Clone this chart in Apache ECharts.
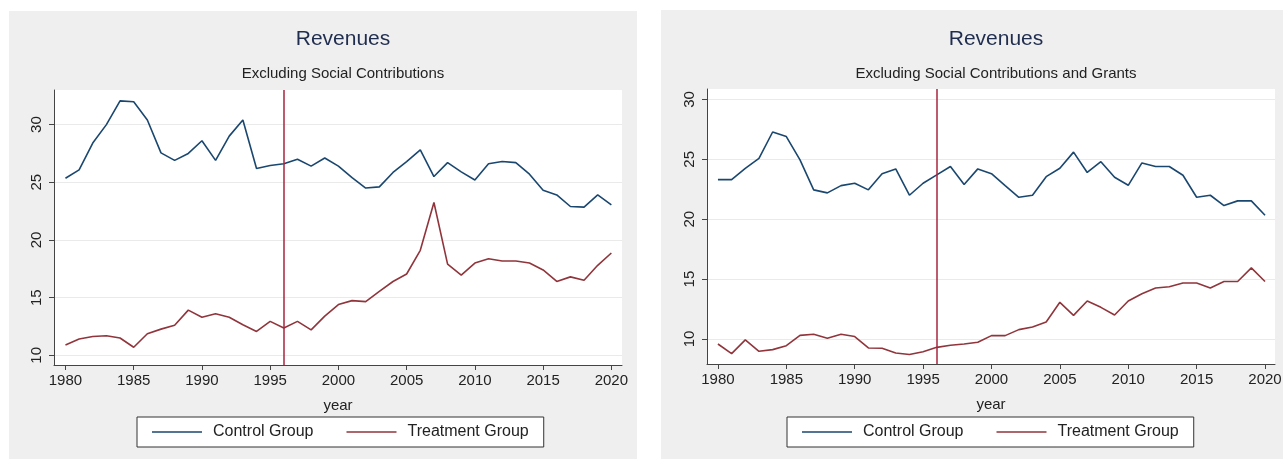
<!DOCTYPE html>
<html>
<head>
<meta charset="utf-8">
<script src="https://cdn.jsdelivr.net/npm/echarts@6/dist/echarts.min.js"></script>
<style>
  html, body { margin: 0; padding: 0; background: #ffffff; }
  #chart { width: 1285px; height: 459px; }
</style>
</head>
<body>
<div id="chart"></div>
<script>
// Years on the horizontal axis
const years = [1980, 1981, 1982, 1983, 1984, 1985, 1986, 1987, 1988, 1989,
               1990, 1991, 1992, 1993, 1994, 1995, 1996, 1997, 1998, 1999,
               2000, 2001, 2002, 2003, 2004, 2005, 2006, 2007, 2008, 2009,
               2010, 2011, 2012, 2013, 2014, 2015, 2016, 2017, 2018, 2019,
               2020];

// Revenues excluding social contributions
const controlExclSC = [25.35, 26.08, 28.4, 30.0, 32.06, 31.98, 30.4, 27.55, 26.9, 27.5,
                       28.6, 26.9, 29.0, 30.4, 26.2, 26.45, 26.6, 27.0, 26.4, 27.1,
                       26.4, 25.4, 24.5, 24.6, 25.85, 26.8, 27.8, 25.5, 26.7, 25.9,
                       25.2, 26.6, 26.8, 26.7, 25.7, 24.3, 23.9, 22.9, 22.85, 23.9,
                       23.05];
const treatExclSC = [10.9, 11.42, 11.63, 11.7, 11.5, 10.7, 11.87, 12.27, 12.6, 13.92,
                     13.3, 13.6, 13.3, 12.65, 12.07, 12.94, 12.36, 12.94, 12.2, 13.4,
                     14.4, 14.74, 14.65, 15.55, 16.4, 17.05, 19.1, 23.25, 17.9, 16.95,
                     18.0, 18.37, 18.17, 18.17, 18.0, 17.4, 16.4, 16.8, 16.5, 17.8,
                     18.87];

// Revenues excluding social contributions and grants
const controlExclSCG = [23.3, 23.3, 24.25, 25.08, 27.28, 26.9, 24.95, 22.45, 22.2, 22.8,
                        23.0, 22.45, 23.8, 24.2, 22.0, 23.0, 23.7, 24.4, 22.9, 24.2,
                        23.8, 22.8, 21.83, 22.0, 23.55, 24.25, 25.6, 23.9, 24.8, 23.5,
                        22.83, 24.7, 24.4, 24.4, 23.67, 21.83, 22.0, 21.14, 21.53, 21.53,
                        20.33];
const treatExclSCG = [9.58, 8.78, 9.92, 8.97, 9.11, 9.44, 10.3, 10.39, 10.06, 10.39,
                      10.2, 9.25, 9.22, 8.83, 8.7, 8.94, 9.3, 9.47, 9.58, 9.72,
                      10.28, 10.28, 10.78, 11.0, 11.42, 13.06, 11.97, 13.17, 12.64, 12.0,
                      13.17, 13.78, 14.25, 14.36, 14.67, 14.67, 14.25, 14.8, 14.8, 15.94,
                      14.8];

// Tick labels
const xTicks = [1980, 1985, 1990, 1995, 2000, 2005, 2010, 2015, 2020];
const yTicks = [10, 15, 20, 25, 30];

// Year of the treatment (vertical reference line)
const treatmentYear = 1996;

const seriesNames = ['Control Group', 'Treatment Group'];
const titleText = 'Revenues';
const subtitles = ['Excluding Social Contributions', 'Excluding Social Contributions and Grants'];
const xName = 'year';

const FONT = '"Liberation Sans", Arial, Helvetica, sans-serif';
const BLUE = '#1a476f';
const RED = '#90353b';
const VLINE = '#a8243f';
const PANEL_BG = '#efefef';

const pair = arr => years.map((y, i) => [y, arr[i]]);
const plain = v => String(v);

const panels = [
  { grid: { left: 54, top: 90, width: 568, height: 275 },
    xRange: [1979.16, 2020.78], yRange: [9.16, 33],
    control: controlExclSC, treat: treatExclSC, sub: subtitles[0],
    bg: [9, 11, 628, 448], legendLeft: 137 },
  { grid: { left: 707, top: 89, width: 568, height: 275 },
    xRange: [1979.2, 2020.73], yRange: [7.91, 30.87],
    control: controlExclSCG, treat: treatExclSCG, sub: subtitles[1],
    bg: [661, 10, 622, 449], legendLeft: 787 }
];

const option = {
  animation: false,
  textStyle: { fontFamily: FONT },
  graphic: panels.map(p => ({
    type: 'rect', z: -10, silent: true,
    shape: { x: p.bg[0], y: p.bg[1], width: p.bg[2], height: p.bg[3] },
    style: { fill: PANEL_BG }
  })),
  title: [],
  legend: [],
  grid: [],
  xAxis: [],
  yAxis: [],
  series: []
};

panels.forEach((p, k) => {
  const cx = p.grid.left + p.grid.width / 2;
  option.title.push({
    text: titleText, left: cx, top: 24, textAlign: 'center',
    textStyle: { fontFamily: FONT, fontSize: 21, fontWeight: 'normal', color: '#1f2d4f' }
  });
  option.title.push({
    text: p.sub, left: cx, top: 61, textAlign: 'center',
    textStyle: { fontFamily: FONT, fontSize: 15, fontWeight: 'normal', color: '#222' }
  });
  option.legend.push({
    left: p.legendLeft, top: 417, orient: 'horizontal',
    data: seriesNames,
    icon: 'rect', itemWidth: 50, itemHeight: 1.5, itemGap: 33,
    backgroundColor: '#ffffff', borderColor: '#333', borderWidth: 1, borderRadius: 0,
    padding: [7, 15],
    selectedMode: false,
    textStyle: { fontFamily: FONT, fontSize: 16, color: '#222', padding: [0, 0, 0, 6] }
  });
  option.grid.push(Object.assign({ show: true, backgroundColor: '#ffffff', borderWidth: 0 }, p.grid));
  option.xAxis.push({
    type: 'value', gridIndex: k, min: p.xRange[0], max: p.xRange[1],
    name: xName, nameLocation: 'middle', nameGap: 33,
    nameTextStyle: { fontFamily: FONT, fontSize: 15, color: '#222' },
    axisLine: { show: true, lineStyle: { color: '#444', width: 1 } },
    axisTick: { show: true, length: 5, customValues: xTicks, lineStyle: { color: '#444' } },
    axisLabel: { customValues: xTicks, formatter: plain, margin: 8, fontFamily: FONT, fontSize: 15, color: '#222' },
    splitLine: { show: false }
  });
  option.yAxis.push({
    type: 'value', gridIndex: k, min: p.yRange[0], max: p.yRange[1],
    axisLine: { show: true, lineStyle: { color: '#444', width: 1 } },
    axisTick: { show: true, length: 5, customValues: yTicks, lineStyle: { color: '#444' } },
    axisLabel: { customValues: yTicks, formatter: plain, rotate: 90, margin: 10, fontFamily: FONT, fontSize: 15, color: '#222' },
    splitLine: { show: true, lineStyle: { color: '#eaeaea', width: 1 } }
  });
  option.series.push({
    name: seriesNames[0], type: 'line', xAxisIndex: k, yAxisIndex: k,
    data: pair(p.control), symbol: 'none', color: BLUE,
    lineStyle: { color: BLUE, width: 1.6 },
    markLine: {
      silent: true, symbol: 'none', label: { show: false },
      lineStyle: { color: VLINE, width: 1.5, type: 'solid' },
      data: [{ xAxis: treatmentYear }]
    }
  });
  option.series.push({
    name: seriesNames[1], type: 'line', xAxisIndex: k, yAxisIndex: k,
    data: pair(p.treat), symbol: 'none', color: RED,
    lineStyle: { color: RED, width: 1.6 }
  });
});

const chart = echarts.init(document.getElementById('chart'), null, { renderer: 'canvas' });
chart.setOption(option);
</script>
</body>
</html>
